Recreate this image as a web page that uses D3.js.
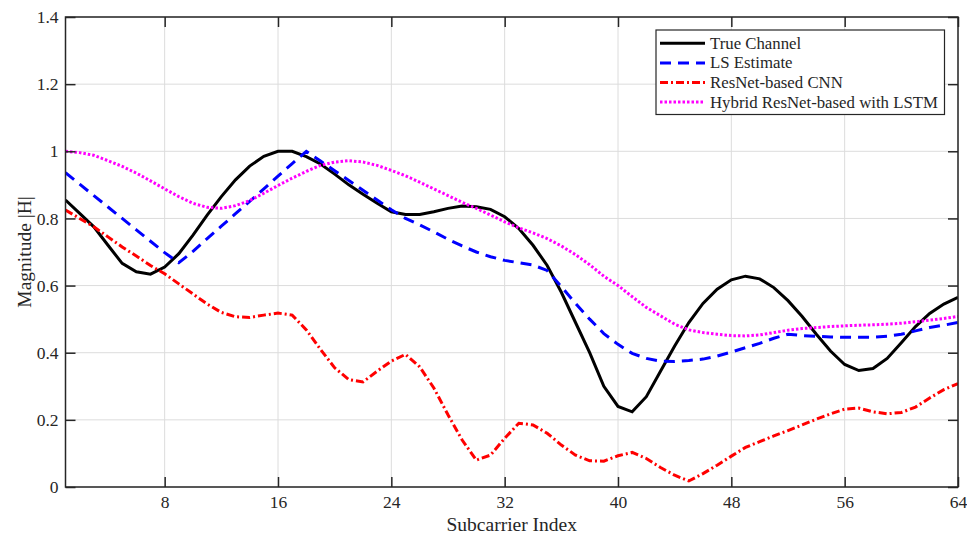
<!DOCTYPE html>
<html><head><meta charset="utf-8">
<script src="https://cdn.jsdelivr.net/npm/d3@7"></script>
<style>body{margin:0;background:#fff}svg{display:block}text{font-family:"Liberation Serif","Times New Roman",serif;fill:#262626}</style>
</head><body><svg id="c" width="967" height="540"></svg>
<script>
const subcarriers = d3.range(1, 65);
const trueChannel = [0.855,0.815,0.775,0.72,0.666,0.641,0.634,0.655,0.695,0.75,0.81,0.865,0.915,0.956,0.985,1.0,1.0,0.984,0.962,0.932,0.9,0.872,0.845,0.82,0.812,0.812,0.82,0.83,0.837,0.835,0.827,0.805,0.77,0.72,0.66,0.58,0.49,0.4,0.3,0.24,0.224,0.269,0.345,0.42,0.49,0.547,0.589,0.617,0.628,0.62,0.594,0.555,0.508,0.455,0.405,0.365,0.347,0.353,0.383,0.43,0.478,0.517,0.545,0.565];
const lsEstimate = [0.936,0.902,0.868,0.834,0.8,0.766,0.732,0.698,0.668,0.702,0.74,0.777,0.814,0.851,0.888,0.926,0.963,1.0,0.971,0.942,0.913,0.884,0.855,0.826,0.8,0.781,0.76,0.738,0.718,0.7,0.686,0.675,0.668,0.661,0.645,0.597,0.547,0.5,0.457,0.425,0.398,0.383,0.375,0.374,0.377,0.381,0.39,0.402,0.415,0.428,0.443,0.455,0.451,0.449,0.447,0.446,0.446,0.446,0.449,0.455,0.465,0.475,0.482,0.49];
const resnetCnn = [0.825,0.8,0.775,0.745,0.715,0.688,0.66,0.635,0.605,0.575,0.545,0.52,0.507,0.505,0.512,0.518,0.512,0.468,0.41,0.355,0.32,0.313,0.345,0.375,0.395,0.358,0.295,0.215,0.14,0.08,0.095,0.145,0.19,0.185,0.16,0.125,0.095,0.078,0.077,0.093,0.103,0.085,0.058,0.035,0.018,0.04,0.065,0.092,0.118,0.135,0.152,0.168,0.185,0.202,0.218,0.232,0.235,0.224,0.218,0.222,0.238,0.265,0.29,0.308];
const hybridLstm = [1.0,0.996,0.988,0.972,0.955,0.935,0.912,0.888,0.865,0.845,0.833,0.83,0.838,0.853,0.875,0.898,0.92,0.94,0.958,0.968,0.972,0.968,0.958,0.943,0.927,0.908,0.888,0.868,0.848,0.83,0.81,0.79,0.772,0.757,0.74,0.718,0.692,0.662,0.628,0.6,0.567,0.535,0.51,0.485,0.468,0.46,0.455,0.451,0.45,0.453,0.46,0.467,0.472,0.475,0.478,0.48,0.482,0.483,0.485,0.488,0.492,0.497,0.502,0.508];
const xTicks = [8,16,24,32,40,48,56,64];
const yTicks = [0,0.2,0.4,0.6,0.8,1,1.2,1.4];
const seriesNames = ["True Channel","LS Estimate","ResNet-based CNN","Hybrid ResNet-based with LSTM"];

(function(){
const series = [
  {name:seriesNames[0], vals:trueChannel, color:"#000000", dash:null, w:3},
  {name:seriesNames[1], vals:lsEstimate, color:"#0000ff", dash:"11,7", w:3},
  {name:seriesNames[2], vals:resnetCnn, color:"#ff0000", dash:"8,3,2,3", w:3},
  {name:seriesNames[3], vals:hybridLstm, color:"#ff00ff", dash:"2.5,2", w:3}
];

const svg = d3.select("#c");
const L=65.5, R=958, T=17, B=487;
const x = d3.scaleLinear().domain([1,64]).range([L,R]);
const y = d3.scaleLinear().domain([0,1.4]).range([B,T]);

const g = svg.append("g");
g.selectAll(".gx").data(xTicks).enter().append("line")
  .attr("x1",d=>x(d)).attr("x2",d=>x(d)).attr("y1",T).attr("y2",B)
  .attr("stroke","#dcdcdc").attr("stroke-width",1);
g.selectAll(".gy").data(yTicks).enter().append("line")
  .attr("x1",L).attr("x2",R).attr("y1",d=>y(d)).attr("y2",d=>y(d))
  .attr("stroke","#dcdcdc").attr("stroke-width",1);

const line = d3.line().x((d,i)=>x(subcarriers[i])).y(d=>y(d));
svg.append("clipPath").attr("id","cp").append("rect").attr("x",L).attr("y",T).attr("width",R-L).attr("height",B-T);
series.forEach(s=>{
  svg.append("path").datum(s.vals).attr("d",line).attr("fill","none")
    .attr("stroke",s.color).attr("stroke-width",s.w)
    .attr("stroke-dasharray",s.dash).attr("clip-path","url(#cp)");
});

const ax = svg.append("g");
const fmt = d=>d3.format("~g")(d);
const axB = ax.append("g").attr("transform",`translate(0,${B})`).call(d3.axisBottom(x).tickValues(xTicks).tickSize(-10).tickPadding(9).tickFormat(fmt));
const axT = ax.append("g").attr("transform",`translate(0,${T})`).call(d3.axisTop(x).tickValues(xTicks).tickSize(-10).tickFormat(""));
const axL = ax.append("g").attr("transform",`translate(${L},0)`).call(d3.axisLeft(y).tickValues(yTicks).tickSize(-10).tickPadding(7).tickFormat(fmt));
const axR = ax.append("g").attr("transform",`translate(${R},0)`).call(d3.axisRight(y).tickValues(yTicks).tickSize(-10).tickFormat(""));
[axB,axT,axL,axR].forEach(a=>{
  a.attr("font-family","Liberation Serif");
  a.select(".domain").remove();
  a.selectAll(".tick line").attr("stroke","#262626").attr("stroke-width",1.5);
  a.selectAll("text").attr("font-size",17.5).attr("font-family","Liberation Serif").attr("fill","#262626");
});
svg.append("rect").attr("x",L).attr("y",T).attr("width",R-L).attr("height",B-T)
  .attr("fill","none").attr("stroke","#262626").attr("stroke-width",1.5);

svg.append("text").attr("x",(L+R)/2).attr("y",531).attr("text-anchor","middle").attr("font-size",19.5).text("Subcarrier Index");
svg.append("text").attr("transform",`translate(31,${(T+B)/2}) rotate(-90)`).attr("text-anchor","middle").attr("font-size",19.5).text("Magnitude |H|");

const lg = svg.append("g");
lg.append("rect").attr("x",656).attr("y",30).attr("width",288.5).attr("height",84.5).attr("fill","#fff").attr("stroke","#262626").attr("stroke-width",1.2);
series.forEach((s,i)=>{
  const yy = 43.3 + i*19.6;
  lg.append("line").attr("x1",660).attr("x2",705).attr("y1",yy).attr("y2",yy)
    .attr("stroke",s.color).attr("stroke-width",s.w).attr("stroke-dasharray",s.dash);
  lg.append("text").attr("x",710).attr("y",yy+5.5).attr("font-size",16.8).attr("fill","#000").text(s.name);
});
})();
</script></body></html>
